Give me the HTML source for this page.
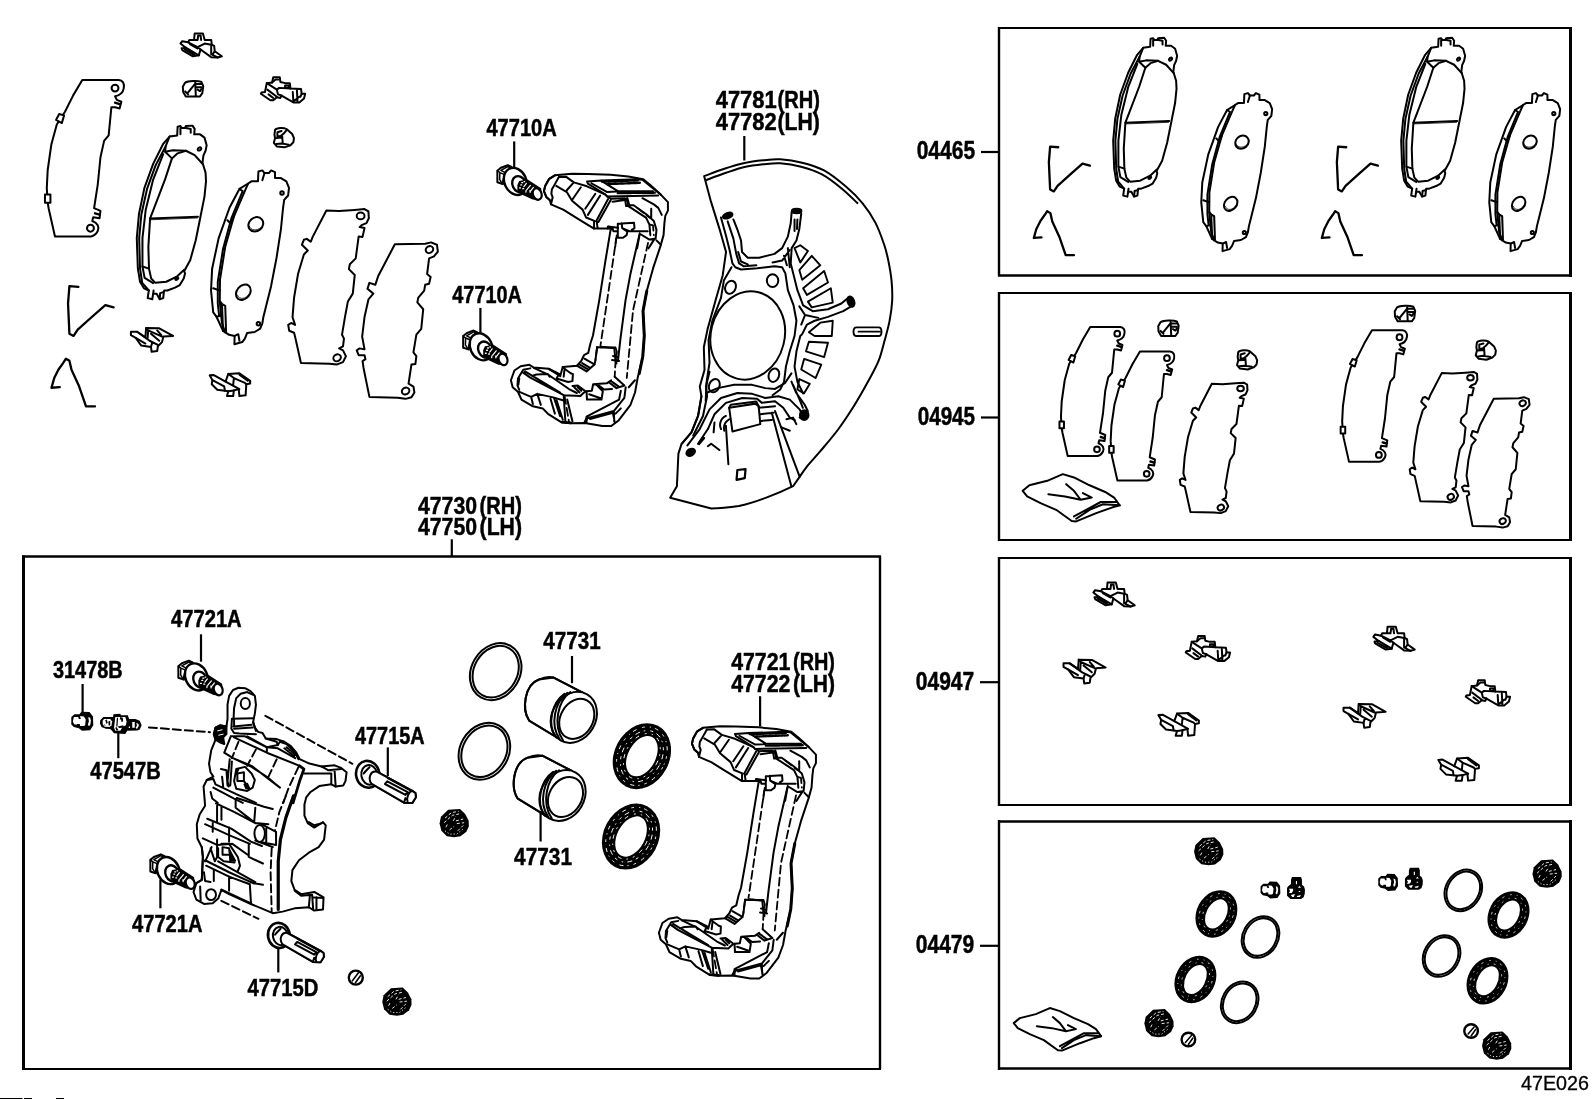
<!DOCTYPE html>
<html><head><meta charset="utf-8"><title>47E026</title>
<style>
html,body{margin:0;padding:0;background:#fff;}
body{width:1592px;height:1099px;overflow:hidden;font-family:"Liberation Sans",sans-serif;}
svg{display:block;filter:grayscale(1);}
.l{fill:none;stroke:#000;stroke-width:2;stroke-linejoin:round;stroke-linecap:round;vector-effect:non-scaling-stroke;}
path,circle,ellipse,line,polyline,polygon,rect{vector-effect:non-scaling-stroke;}
.w{fill:#fff;}
.k{fill:#000;}
.t{font-family:"Liberation Sans",sans-serif;font-weight:bold;font-size:24.5px;fill:#000;stroke:#000;stroke-width:0.5;}
.d{stroke-dasharray:8 4;}
</style></head><body>
<svg width="1592" height="1099" viewBox="0 0 1592 1099">
<rect x="0" y="0" width="1592" height="1099" fill="#fff"/>
<defs>
<!-- padA: traced in zoom frame of region [120,115,300,355], scale 4.579 -->
<g id="padA" class="l">
<path class="w" d="M262,50 L275,47 L281,56 L295,56 L300,47 L330,45 L340,60 L338,85 L365,85 L385,100 L395,135 L390,160 L380,182 L376,215 L390,260 L392,300 L385,370 L365,470 L345,570 L320,660 L292,712 L296,722 L290,745 L272,775 L250,787 L215,800 L200,800 L196,835 L180,840 L166,815 L150,815 L146,840 L125,835 L130,800 L108,790 L90,760 L80,700 L75,560 L85,450 L110,330 L150,220 L195,130 L225,95 L260,90 Z"/>
<path d="M225,95 L207,140 L162,225 L122,335 L96,452 L86,560 L90,700 L100,765 L130,800"/>
<path d="M207,140 L205,165 L240,158 L300,160 L340,180 L378,222"/>
<path d="M205,165 L236,195 L205,290 L152,428 L136,470 L128,600 L131,700 L141,745 L160,765 L210,760 L260,735 L292,705"/>
<path d="M236,195 L262,172 L300,160"/>
<path d="M196,176 L150,292 L116,430 L101,560 L101,690 L111,742 L150,766"/>
<path d="M136,470 L355,462"/>
<path d="M140,476 L352,468" stroke-width="0.8"/>
<path d="M101,690 L131,700"/>
<path d="M275,56 L275,85 M300,56 L322,60 L322,78 M150,815 L152,800 M180,838 L182,812 L196,808"/>
<ellipse cx="362" cy="152" rx="9" ry="6" transform="rotate(-35 362 152)"/>
<ellipse cx="258" cy="745" rx="8" ry="5" transform="rotate(-35 258 745)"/>
</g>
<!-- padB: same zoom frame -->
<g id="padB" class="l">
<path class="w" d="M632,255 L650,250 L660,262 L680,262 L690,250 L708,258 L708,285 L735,285 L760,300 L772,330 L768,365 L750,385 L745,420 L735,520 L715,650 L690,780 L665,880 L655,920 L650,950 L640,975 L615,990 L580,995 L570,1020 L558,1036 L522,1046 L523,1008 L498,1003 L470,985 L440,920 L425,900 L415,800 L420,700 L450,560 L500,420 L545,335 L585,310 L600,300 L630,300 Z"/>
<path d="M585,310 L575,332 L520,460 L480,600 L456,750 L455,850 L465,950 L480,992"/>
<path d="M545,335 L560,345 L508,470 L470,610 L446,760 L446,860 L452,915"/>
<path d="M440,920 L462,915 M425,790 L455,800 M490,478 L506,494 L520,460"/>
<path d="M465,860 L470,985 M456,850 L466,862 L480,870 L484,990" stroke-width="2"/>
<path d="M523,1008 L540,1000 L545,1030 M660,262 L650,295"/>
<ellipse cx="620" cy="497" rx="36" ry="31" transform="rotate(-40 620 497)"/>
<ellipse cx="563" cy="808" rx="39" ry="30" transform="rotate(-50 563 808)"/>
<path d="M590,505 C595,525 625,530 645,510 M535,820 C545,845 575,840 590,815" stroke-width="0.8"/>
<circle cx="740" cy="353" r="8"/>
<circle cx="632" cy="952" r="8"/>
</g>
<!-- shim1: zoom frame region [20,60,220,260] scale 5.495 -->
<g id="shim1" class="l">
<path class="w" d="M340,105 L540,105 C562,106 573,125 568,150 C564,175 545,190 520,195 L530,215 L555,225 L545,262 L520,255 L500,255 L485,410 L460,440 L440,530 L425,680 L405,810 L440,825 L435,865 L400,860 L395,880 C425,890 435,915 425,935 C415,955 400,963 388,965 L190,965 L155,810 L150,780 L145,700 L150,600 L170,460 L200,350 L245,280 L290,190 Z"/>
<path class="w" d="M213,292 L240,300 L228,342 L196,325 Z"/>
<path class="w" d="M135,735 L165,735 L165,780 L135,780 Z"/>
<circle cx="520" cy="150" r="19"/>
<circle cx="385" cy="920" r="19"/>
<path d="M520,230 L545,238 M410,838 L435,845" stroke-width="2.4"/>
</g>
<!-- shimC / shimD: zoom frame region [280,195,450,410] scale 5.1116 -->
<g id="shimC" class="l">
<path class="w" d="M235,75 L300,78 L380,72 L430,68 L450,80 L452,115 L440,140 L415,150 L405,160 L430,165 L420,210 L400,208 L385,320 L355,350 L350,375 L380,405 L370,500 L345,540 L330,620 L315,710 L325,730 L320,770 L300,780 L320,790 L335,820 L320,850 L290,862 L250,858 L105,855 L75,720 L70,700 L45,690 L40,660 L55,650 L75,660 L62,620 L70,520 L90,400 L120,300 L140,280 L110,250 L120,225 L135,220 L155,235 L165,210 Z"/>
<ellipse cx="410" cy="103" rx="20" ry="17"/>
<ellipse cx="290" cy="828" rx="20" ry="17" transform="rotate(-30 290 828)"/>
</g>
<g id="shimD" class="l">
<path class="w" d="M585,248 L740,245 L770,238 L800,250 L805,285 L785,310 L760,320 L750,400 L768,415 L760,450 L740,455 L735,485 L705,520 L700,545 L730,580 L720,680 L695,710 L680,800 L695,820 L690,860 L670,862 L655,960 L680,975 L685,1005 L670,1030 L640,1038 L600,1032 L455,1028 L425,880 L420,845 L435,835 L430,815 L400,815 L390,790 L405,780 L430,785 L418,720 L430,620 L450,530 L475,500 L445,475 L455,445 L485,455 L500,410 Z"/>
<ellipse cx="762" cy="275" rx="20" ry="17" transform="rotate(-30 762 275)"/>
<ellipse cx="640" cy="998" rx="20" ry="17" transform="rotate(-30 640 998)"/>
</g>
<!-- clips/caps: zoom frame region [170,25,310,155] scale 8.457 -->
<g id="clipA" class="l">
<path class="w" d="M205,65 L275,65 L290,120 L345,120 L350,160 L370,170 L375,215 L435,258 L400,268 L345,265 L255,200 L240,250 L190,258 L100,205 L95,190 L130,185 L85,150 L100,130 L150,140 L160,120 L200,120 Z"/>
<path d="M208,120 L230,120 L235,82 L255,82 L260,120 M150,140 L230,180 L290,150 L345,160 M230,180 L255,200 M130,185 L240,250 M165,155 L228,192 M345,160 L345,240 M375,215 L355,245 L400,268 M120,200 L200,245" />
</g>
<g id="clipB" class="l">
<path class="w" d="M870,435 L925,435 L930,475 L970,485 L1010,485 L1015,530 L1105,535 L1110,575 L1140,575 L1130,615 L1090,648 L1040,648 L940,590 L930,610 L900,605 L870,630 L845,630 L765,575 L770,565 L800,560 L815,485 L860,480 Z"/>
<path d="M860,480 L890,455 L915,455 M815,485 L900,540 L920,525 L1015,530 M900,540 L910,580 L940,590 M820,540 L900,600 M830,580 L870,610 M1035,560 L1040,640 M1070,545 L1075,640 M1100,600 L1110,575 M970,505 L1000,505 L1000,525 L970,525 Z M1040,640 L1090,600 L1100,600"/>
</g>
<g id="capA" class="l">
<path class="w" d="M125,480 C150,465 230,460 262,475 L278,510 L270,570 L250,598 L130,598 L108,560 L105,515 Z"/>
<path d="M210,480 L215,595 M215,492 L265,492 M145,570 L210,490 M215,520 L264,520 M230,540 L250,552 L262,535 M125,555 L150,580"/>
</g>
<g id="capB" class="l">
<path class="w" d="M885,880 C900,860 960,860 985,875 L1030,915 L1045,950 L1040,985 L1015,1010 L965,1028 L900,1020 L875,990 L885,950 L880,920 Z"/>
<path d="M905,900 L905,940 L935,930 L960,910 L985,880 M945,930 L950,992 M895,950 L945,945 M895,1000 L940,995 L1000,1005 M905,900 L940,890" stroke-width="2"/>
</g>
<!-- springs & clips C/D: zoom frame region [40,275,260,415] scale 7.236 -->
<g id="springV" class="l"><path d="M275,80 L210,75 L200,200 L210,420 L240,435 L270,390 L370,300 L470,212 L530,228" stroke-width="2.3"/></g>
<g id="springA" class="l"><path d="M140,805 L80,810 L100,740 L130,680 L165,630 L185,600 L210,615 L225,680 L280,800 L330,945 L395,945" stroke-width="2.3"/></g>
<g id="clipC" class="l">
<path class="w" d="M655,405 L700,405 L760,445 L765,378 L860,380 L960,435 L890,440 L880,480 L850,510 L845,545 L805,550 L800,515 L730,505 L690,450 L655,430 Z"/>
<path d="M765,378 L780,395 L775,460 M780,395 L880,440 M700,405 L790,470 L850,500 M800,420 L860,470 M845,395 L875,430 M810,480 L800,515 M690,450 L760,490"/>
</g>
<g id="clipD" class="l">
<path class="w" d="M1225,720 L1255,718 L1340,765 L1360,710 L1440,705 L1518,760 L1518,780 L1490,785 L1485,865 L1440,870 L1435,820 L1400,830 L1395,870 L1350,870 L1360,835 L1280,825 L1240,785 L1245,755 Z"/>
<path d="M1360,710 L1400,740 L1480,775 M1340,765 L1440,820 M1400,740 L1395,790 M1245,755 L1330,800 L1335,830 M1440,715 L1500,760 M1480,775 L1490,785 M1360,835 L1400,830"/>
</g>
<!-- bracket2: in absolute coords of lower bracket instance -->
<g id="bracket">
<g class="l" transform="translate(648,715) scale(0.25023)">
<path class="w" d="M218,48 L286,42 L350,43 L441,46 L511,53 L571,64 L599,87 L641,125 L669.5,155 L669.5,189 L659,210 L655.5,238 L652,287 L640,330 L610,420 L585,510 L570,590 L575,690 L569,772 L548,860 L538,916 L520,965 L471,1029 L443,1050 L408,1050 L337,1037.5 L281,1039 L246,1036 L190,1001 L169,979.5 L130,971 L84,944 L70,913 L49,895 L42,867 L56,828 L81,811 L116,805.5 L133,816 L193,821 L235,842 L239,851 L249,814 L306,809 L323,790 L334,767 L351,758 L360,719 L370,688 L395,548 L420,388 L440,268 L445,262 L427,261 L374,261 L307,220 L251,185 L202,164 L197,146 L184,136 L174,111 L179,90 L195,62 Z"/>
<path d="M555,288 L520,440 L500,548 L480,700 L470,788 M430,253 L470,258" stroke-width="2"/>
<path class="d" d="M465,288 L400,728 M590,318 L530,588 L505,858" stroke-width="1.8"/>
<path d="M400,733 L455,738 L460,788 L470,788 M450,770 L470,775" />
<path d="M585,510 L570,590 L575,690 L569,772 L555,840" stroke-width="3"/>
</g>
<g class="l" transform="translate(688,720) scale(0.08794)">
<path d="M165,80 L100,120 L55,200 L40,260 L70,330 L105,360 M210,100 L165,180 L130,240 L125,290 L140,330 L120,410" stroke-width="2"/>
<path d="M210,100 L290,95 L380,160 L530,205 L740,300 M180,200 L300,270 L360,370 L480,470 L520,560 L620,600 M380,160 L300,250 M460,215 L360,360 M625,290 L510,460 M680,310 L540,530 M770,350 L640,590 M800,360 L660,610 M610,610 L610,685 M640,600 L650,680"/>
<path d="M530,150 L690,140 L1100,125 L1160,130 L1370,300 M530,150 L540,175 L740,300 L760,320 L1340,310 M690,140 L880,260 L1280,260 M580,170 L760,270 L870,265" />
<path d="M700,152 L1110,137 M760,180 L1130,165 M880,282 L1300,277" stroke-width="2.4" stroke-dasharray="2 1.2"/>
<path d="M800,345 L960,340 L975,430 L1000,430 L1200,560 L1240,640 L1250,760 M820,380 L960,360 M1000,420 L1060,420 L1200,520 L1290,600 L1320,700 L1310,800 M1160,340 L1290,410 L1340,450 L1380,530 M1260,460 L1260,560 M760,320 L800,345"/>
<path d="M985,345 L1005,420" stroke-width="3"/>
<path class="d" d="M1250,640 L1280,650 L1290,760 M1100,450 L1240,560" stroke-width="1.8"/>
<path d="M880,630 L1065,620 L1070,680 L1040,700 M880,630 L880,790 L940,790 L980,760 L990,720 L930,680 L925,625 M1010,715 L1220,715 M930,680 L1010,715 M1130,740 L1100,910 M1140,750 L1240,810 L1300,800 L1230,910 M1320,820 L1370,870 M760,685 L775,665 L820,680 L830,715 L875,715"/>
<path class="d" d="M860,800 L850,910" stroke-width="1.8"/>
</g>
<g class="l" transform="translate(655,895) scale(0.08794)">
<path d="M180,300 L120,400 L115,480 L135,530 M180,300 L260,285 M135,400 L125,470" stroke-width="2"/>
<path d="M175,330 L260,390 L640,590 L660,900 M640,590 L830,600 L870,560 L900,545 M200,320 L600,560 M300,280 L470,360 L700,520 L790,565 M280,370 L330,355 L460,350 L480,380 M470,290 L580,360 L560,400 L690,440 L740,430 L745,350 M630,270 L650,290 L720,340 L745,350 M650,290 L640,380"/>
<path d="M790,255 L900,320 L990,240 L875,175 M820,240 L920,300 M850,225 L940,280 M740,485 L800,480 L880,540 M760,500 L820,560 M800,500 L840,540"/>
<path d="M900,545 L905,640 L1070,640 L1085,545 L1010,470 L975,465 L960,540 Z M930,580 L1060,625 M975,465 L1130,455 L1180,420 M1040,480 L1100,525 L1190,520 M1150,440 L1240,510 L1330,480 L1220,380 M1180,430 L1270,495 M1020,45 L1000,200 L990,240 M1190,190 L1270,200 M1230,150 L1240,230"/>
<path d="M1020,45 L1230,50" stroke-width="2.2" stroke-dasharray="2 1.2"/>
<path class="d" d="M1230,50 L1245,100 L1230,200 L1220,380 M1020,45 L1000,200" stroke-width="1.8"/>
<path d="M900,835 L1270,640 L1290,540 M920,850 L1210,770 L1330,620 L1345,500 M900,835 L900,905 M940,860 L1200,790 L1220,900 M1210,770 L1215,890 M1230,800 L1290,740 M1380,500 L1450,420"/>
<path d="M130,550 L270,610 L340,575 L520,615 L640,650 M340,575 L380,700 M270,610 L290,690 M490,630 L540,800 M530,620 L600,830 M560,650 L630,870 M680,640 L740,890"/>
<path class="d" d="M650,600 L700,890" stroke-width="1.8"/>
<path d="M620,895 L720,905 M880,900 L910,840" stroke-width="2.6"/>
</g>
</g>
<!-- boltA: frame origin (450,320) scale 19.99 (second 47710A bolt) -->
<g id="boltA" class="l">
<path class="w" d="M255,305 L325,248 L465,195 L540,230 L555,280 L440,365 L400,425 L370,500 L365,575 L300,552 L255,538 Z" stroke-width="2"/>
<path d="M325,300 L465,222 L530,262 L430,355 Z M305,345 L300,480 L355,570 M255,305 L305,345 L400,385" stroke-width="1.5"/>
<ellipse class="w" cx="615" cy="520" rx="218" ry="280" transform="rotate(-25 615 520)" stroke-width="2.4"/>
<ellipse class="w" cx="690" cy="575" rx="132" ry="166" transform="rotate(-25 690 575)" stroke-width="2.4"/>
<path class="k" d="M690,510 L860,480 L1130,655 L1140,780 L1040,890 L960,880 L720,770 L655,690 L655,590 Z" stroke="none"/>
<ellipse class="w" cx="1052" cy="772" rx="86" ry="118" transform="rotate(-20 1052 772)" stroke-width="2.2"/>
<g stroke="#fff" stroke-width="1.2" fill="none"><path d="M785,625 L835,560 M845,685 L915,600 M910,725 L975,640 M830,700 L825,735 M905,705 L910,740"/><path d="M700,650 L715,650 M725,590 L740,590 M745,545 L760,545 M765,665 L780,665 M790,525 L800,525" stroke-width="1.4"/></g>
</g>
<!-- pin: frame region [340,750,480,850] scale 10.993 -->
<g id="pin" class="l">
<path class="w" d="M400,230 L790,440 L825,465 L830,510 L790,575 L700,570 L340,360 Z"/>
<ellipse class="w" cx="300" cy="258" rx="128" ry="148" stroke-width="2.6" transform="rotate(-10 300 258)"/>
<ellipse cx="318" cy="265" rx="88" ry="108" transform="rotate(-10 318 265)"/>
<path class="w" d="M400,230 C330,215 300,300 340,360 L700,570 L790,575 L830,510 L825,465 L790,440 Z"/>
<path d="M270,230 L320,180 M255,250 L300,200" />
<path d="M490,365 L515,335 L740,455 L715,485 Z M520,300 L760,430 M790,440 C750,450 720,520 740,570 M700,570 L715,520"/>
</g>
<!-- boot (dark nut): same frame -->
<g id="boot">
<path class="k" d="M1185,648 L1315,640 L1372,695 L1410,770 L1412,830 L1385,890 L1320,940 L1250,950 L1170,938 L1110,880 L1090,800 L1105,725 Z"/>
<g fill="none" stroke="#fff" stroke-width="0.9" style="vector-effect:non-scaling-stroke">
<path d="M1150,740 L1220,680 L1300,665 M1140,790 L1230,710 L1320,690 M1270,770 L1350,750 M1280,800 L1360,790 M1240,770 L1270,720 M1160,840 L1180,800 M1200,870 L1250,830 M1290,880 L1350,820" stroke-dasharray="3 2"/>
<path d="M1150,880 L1200,915 L1280,915 L1350,860" stroke-dasharray="1.2 2"/>
</g>
</g>
<!-- oring / piston / seal: frame region [455,635,675,905] scale 4.0704 ; each centered at own origin -->
<g id="oring" class="l">
<ellipse cx="0" cy="0" rx="99" ry="121" transform="rotate(30)" stroke-width="2"/>
<ellipse cx="0" cy="0" rx="88" ry="110" transform="rotate(30)"/>
</g>
<g id="piston" class="l">
<path class="w" d="M-82,-162 L38,-100 L-67,83 L-182,13 C-212,-32 -202,-132 -142,-154 Z"/>
<path d="M38,-100 L-82,-162 C-100,-166 -125,-162 -142,-154 C-202,-132 -212,-32 -182,13 L-67,83"/>
<ellipse class="w" cx="0" cy="0" rx="89" ry="108" transform="rotate(30)" stroke-width="2"/>
<path d="M-38,-96 C-90,-60 -110,30 -72,82 M-26,-100 C-78,-62 -98,30 -58,88 M-14,-103 C-66,-64 -86,32 -44,93" stroke-width="2"/>
<ellipse cx="12" cy="6" rx="66" ry="86" transform="rotate(30 12 6)" stroke-width="2"/>
</g>
<g id="seal">
<g transform="rotate(28)">
<path class="k" fill-rule="evenodd" d="M-112,0 A112,140 0 1,0 112,0 A112,140 0 1,0 -112,0 Z M-56,0 A56,88 0 1,0 56,0 A56,88 0 1,0 -56,0 Z"/>
<g fill="none" stroke="#fff" stroke-width="1">
<ellipse cx="0" cy="0" rx="96" ry="125" stroke-dasharray="2.5 5 1.2 4 4 6"/>
<ellipse cx="0" cy="0" rx="80" ry="110" stroke-dasharray="5 4 1.5 5 3 4"/>
<ellipse cx="0" cy="0" rx="67" ry="98" stroke-dasharray="1.5 5 4 6 2 5"/>
</g>
</g>
</g>
<g id="sealS">
<g transform="rotate(28)">
<path class="k" fill-rule="evenodd" d="M-112,0 A112,140 0 1,0 112,0 A112,140 0 1,0 -112,0 Z M-56,0 A56,88 0 1,0 56,0 A56,88 0 1,0 -56,0 Z"/>
<g fill="none" stroke="#fff" stroke-width="0.8">
<ellipse cx="0" cy="0" rx="92" ry="121" stroke-dasharray="1.5 5 1 4 2.5 6"/>
<ellipse cx="0" cy="0" rx="72" ry="102" stroke-dasharray="2 6 1 5"/>
</g>
</g>
</g>
<!-- grease packet: frame region [1000,295,...] scale 4.486 -->
<g id="packet" class="l">
<path class="w" d="M100,875 L130,850 L210,830 L280,800 L330,815 L400,850 L470,880 L510,905 L535,940 L500,950 L430,975 L340,1012 L320,1010 L250,960 L180,930 L120,900 Z"/>
<path d="M535,940 L460,935 L400,960 L340,1000 M520,925 L450,925 L330,990" />
<path d="M215,890 L290,900 L360,915 L410,905 L370,885 M295,845 L330,875 L360,915" stroke-width="2"/>
</g>
<!-- capK (31478B) frame scale 15.92 -->
<g id="capK" stroke="none">
<path class="k" d="M230,385 L310,385 L340,345 L470,350 L525,420 L530,560 L480,640 L350,650 L300,610 L220,590 L180,550 L180,430 Z"/>
<path class="w" d="M220,430 L290,430 L300,460 L330,460 L320,415 L380,420 L410,470 L400,560 L380,575 L320,575 L315,540 L270,540 L265,555 L225,545 L205,500 Z"/>
<path class="w" d="M450,430 L480,440 L492,490 L480,560 L455,575 L445,545 L460,500 Z"/>
</g>
<!-- bleedV: frame origin (1255,870) scale 26.53 -->
<g id="bleedV" stroke="none">
<path class="k" d="M980,185 L1220,185 L1245,250 L1245,390 L1300,440 L1325,520 L1320,630 L1290,720 L1220,770 L940,770 L850,680 L850,480 L880,430 L955,370 L955,265 Z"/>
<path class="w" d="M900,500 L1010,500 L1010,560 L970,610 L900,610 L930,560 Z M1140,470 L1180,420 L1220,470 Z M1160,555 L1200,555 L1200,585 L1160,585 Z M1085,290 L1115,290 L1115,375 L1085,375 Z M950,665 L1060,640 L1030,715 L990,715 Z M1110,690 L1220,660 L1190,715 L1115,715 Z"/>
</g>
<g id="smallring" class="l"><circle cx="0" cy="0" r="6.8" stroke-width="2.4"/><path d="M-3,3 L3,-4 M0,5 L4.5,-1.5" stroke-width="1.5"/></g>

</defs>
<!-- 00_frames.svg -->
<g fill="none" stroke="#000">
<!-- main assembly box -->
<path d="M23.5 1069 V555.5" stroke-width="3"/>
<path d="M22 556.5 H881" stroke-width="2.5"/>
<path d="M880 556 V1069" stroke-width="2.4"/>
<path d="M22 1069 H881" stroke-width="2"/>
<!-- box 1 -->
<path d="M999 27 V276" stroke-width="2.4"/>
<path d="M998 28 H1572" stroke-width="2"/>
<path d="M1570.5 27 V277" stroke-width="3"/>
<path d="M998 275.5 H1572" stroke-width="2.5"/>
<!-- box 2 -->
<path d="M999 292 V541" stroke-width="2.4"/>
<path d="M998 293 H1572" stroke-width="2"/>
<path d="M1570.5 292 V541" stroke-width="3"/>
<path d="M998 540 H1572" stroke-width="2"/>
<!-- box 3 -->
<path d="M999 557 V806" stroke-width="2.4"/>
<path d="M998 558 H1572" stroke-width="2"/>
<path d="M1570.5 557 V806" stroke-width="3"/>
<path d="M998 805 H1572" stroke-width="2"/>
<!-- box 4 -->
<path d="M999 820 V1070" stroke-width="2.4"/>
<path d="M998 821.5 H1572" stroke-width="2.5"/>
<path d="M1570.5 820 V1070" stroke-width="3"/>
<path d="M998 1068.5 H1572" stroke-width="2.5"/>
</g>
<rect x="0" y="1098" width="22.5" height="1" fill="#000"/>
<rect x="24" y="1098" width="8" height="1" fill="#000"/>
<rect x="56" y="1098" width="8" height="1" fill="#000"/>

<!-- 01_labels.svg -->
<g class="t" opacity="0.999">
<text x="486.4" y="136" textLength="70.4" lengthAdjust="spacingAndGlyphs">47710A</text>
<text x="452.3" y="303" textLength="69.6" lengthAdjust="spacingAndGlyphs">47710A</text>
<text x="715.7" y="107.8" textLength="61" lengthAdjust="spacingAndGlyphs">47781</text>
<text x="777.5" y="107.8" textLength="42.4" lengthAdjust="spacingAndGlyphs">(RH)</text>
<text x="715.7" y="129.7" textLength="61" lengthAdjust="spacingAndGlyphs">47782</text>
<text x="777.5" y="129.7" textLength="42.4" lengthAdjust="spacingAndGlyphs">(LH)</text>
<text x="418" y="514.2" textLength="59" lengthAdjust="spacingAndGlyphs">47730</text>
<text x="479.6" y="514.2" textLength="42.4" lengthAdjust="spacingAndGlyphs">(RH)</text>
<text x="418" y="535.3" textLength="59" lengthAdjust="spacingAndGlyphs">47750</text>
<text x="479.6" y="535.3" textLength="42.4" lengthAdjust="spacingAndGlyphs">(LH)</text>
<text x="171" y="626.7" textLength="70.7" lengthAdjust="spacingAndGlyphs">47721A</text>
<text x="52.9" y="677.5" textLength="69.8" lengthAdjust="spacingAndGlyphs">31478B</text>
<text x="90.2" y="779.2" textLength="70.7" lengthAdjust="spacingAndGlyphs">47547B</text>
<text x="132" y="931.8" textLength="70.5" lengthAdjust="spacingAndGlyphs">47721A</text>
<text x="247.4" y="995.9" textLength="70.9" lengthAdjust="spacingAndGlyphs">47715D</text>
<text x="355" y="743.8" textLength="69.6" lengthAdjust="spacingAndGlyphs">47715A</text>
<text x="543.3" y="649.1" textLength="57.3" lengthAdjust="spacingAndGlyphs">47731</text>
<text x="514.1" y="865.3" textLength="57.9" lengthAdjust="spacingAndGlyphs">47731</text>
<text x="731.2" y="669.9" textLength="59.2" lengthAdjust="spacingAndGlyphs">47721</text>
<text x="793" y="669.9" textLength="42" lengthAdjust="spacingAndGlyphs">(RH)</text>
<text x="731.2" y="691.7" textLength="59.2" lengthAdjust="spacingAndGlyphs">47722</text>
<text x="793" y="691.7" textLength="42" lengthAdjust="spacingAndGlyphs">(LH)</text>
<text x="916.7" y="158.8" textLength="58.4" lengthAdjust="spacingAndGlyphs" style="font-size:26px">04465</text>
<text x="917.7" y="425.1" textLength="57.4" lengthAdjust="spacingAndGlyphs" style="font-size:26px">04945</text>
<text x="915.8" y="689.8" textLength="58.4" lengthAdjust="spacingAndGlyphs" style="font-size:26px">04947</text>
<text x="915.8" y="953" textLength="58.4" lengthAdjust="spacingAndGlyphs" style="font-size:26px">04479</text>
</g>
<text opacity="0.999" x="1521" y="1090" font-family="Liberation Sans, sans-serif" font-size="19.6" textLength="68" lengthAdjust="spacingAndGlyphs" fill="#000" stroke="#000" stroke-width="0.3">47E026</text>
<g fill="none" stroke="#000" stroke-width="2.2">
<path d="M514.2 141.4 V167.3"/>
<path d="M480.4 307.9 V332.5"/>
<path d="M744.3 136 V160.5"/>
<path d="M451.8 539.3 V556"/>
<path d="M201 634.3 V661.7"/>
<path d="M82.6 684 V712.3"/>
<path d="M118.3 731.4 V758.2"/>
<path d="M160.4 879.5 V908.3"/>
<path d="M278.3 946.8 V972.4"/>
<path d="M387.8 747.4 V776"/>
<path d="M572 656 V683.2"/>
<path d="M540.6 802 V841.5"/>
<path d="M760.1 696.2 V726.4"/>
<path d="M981 152 H998"/>
<path d="M981 417.5 H998"/>
<path d="M980 682.2 H998"/>
<path d="M980 945.8 H998"/>
</g>

<!-- 10_topleft.svg -->
<g transform="translate(0.4,0.8)">
<use href="#shim1" transform="translate(20,60) scale(0.18198)"/>
<use href="#padA" transform="translate(120,115) scale(0.21838)"/>
<use href="#padB" transform="translate(120,115) scale(0.21838)"/>
<use href="#shimC" transform="translate(280,195) scale(0.19563)"/>
<use href="#shimD" transform="translate(280,195) scale(0.19563)"/>
<g transform="translate(170,25) scale(0.11824)"><use href="#clipA"/><use href="#clipB"/><use href="#capA"/><use href="#capB"/></g>
<g transform="translate(40,275) scale(0.13819)"><use href="#springV"/><use href="#springA"/><use href="#clipC"/><use href="#clipD"/></g>

</g>
<!-- 11_bracket.svg -->
<g transform="translate(0.4,0.8)">
<use href="#bracket" transform="translate(-148,-552.5)"/>
<use href="#boltA" transform="translate(34.2,-165.4) translate(450,320) scale(0.050025)"/>

</g>
<!-- 12_shield.svg -->
<g transform="translate(0.4,0.8)">
<!-- dust shield -->
<g class="l" transform="translate(660,140) scale(0.33667)">
<path class="w" d="M130.0,105.0 C140.0,101.3 170.0,89.5 190.0,83.0 C210.0,76.5 230.8,70.2 250.0,66.0 C269.2,61.8 287.3,59.8 305.0,58.0 C322.7,56.2 336.7,53.8 356.0,55.0 C375.3,56.2 399.3,59.5 421.0,65.0 C442.7,70.5 464.3,76.2 486.0,88.0 C507.7,99.8 532.0,119.8 551.0,136.0 C570.0,152.2 585.4,167.2 600.0,185.0 C614.6,202.8 627.8,222.5 638.5,243.0 C649.2,263.5 658.1,289.2 664.5,308.0 C670.9,326.8 673.3,338.0 677.0,356.0 C680.7,374.0 684.7,396.2 686.6,416.0 C688.5,435.8 689.4,455.2 688.4,475.0 C687.4,494.8 684.5,515.2 680.7,535.0 C676.9,554.8 671.2,574.2 665.8,594.0 C660.3,613.8 656.0,634.2 648.0,654.0 C640.0,673.8 629.9,691.2 618.0,713.0 C606.1,734.8 591.4,761.2 576.6,785.0 C561.8,808.8 545.9,833.2 529.0,856.0 C512.1,878.8 490.8,903.2 475.0,922.0 C459.2,940.8 444.3,956.2 434.0,969.0 C423.7,981.8 416.5,994.0 413.0,999.0 L394,1026 C350,1048 280,1075 233,1085 C200,1090 170,1092 151,1092 L29,1060 L49,1026 L53.5,929 L63,900 L92,866 L112,817 L122,759 L117,730 L131,681 L129,613 L140,560 L165,470 L185,400 L195,330 L175,260 L150,180 Z"/>
<path d="M135.0,117.0 C145.0,113.3 175.8,101.5 195.0,95.0 C214.2,88.5 231.7,82.2 250.0,78.0 C268.3,73.8 287.3,71.8 305.0,70.0 C322.7,68.2 337.2,65.8 356.0,67.0 C374.8,68.2 397.3,71.5 418.0,77.0 C438.7,82.5 459.7,89.0 480.0,100.0 C500.3,111.0 522.5,128.8 540.0,143.0 C557.5,157.2 577.5,178.0 585.0,185.0"/>
</g>
<g class="l" transform="translate(690,190) scale(0.19108)">
<ellipse cx="300" cy="757" rx="193" ry="233" transform="rotate(14 300 757)"/>
<!-- prong 1 + plate left edge -->
<path d="M160,140 L185,230 L205,310 L220,380 L235,400 L265,412 L350,405 L440,395 L480,400 L497,432 L510,520 L540,600 L555,680 L545,760 L520,840 L500,920 L490,1000 L470,1040 L430,1070"/>
<path d="M225,150 L245,200 L265,260 L270,320 L300,350 L360,350 L440,330 L480,300 L510,240 L525,170 L530,110"/>
<path d="M195,160 L225,250 L240,330 L255,380 L280,395 L345,390 M250,320 L265,370 L300,385" />
<path d="M580,120 L570,200 L555,260 L530,300 L525,380 L540,440 L560,520 L590,600 L640,630 L720,620 L790,590 L820,565"/>
<path d="M545,150 L545,210 M560,150 L558,200" />
<path d="M850,600 L800,630 L720,660 L650,680 L610,700 L585,750 L575,760 L555,840 L545,920 L560,1000 L590,1060"/>
<path d="M570,605 L600,650 L670,665 M600,650 L580,700"/>
<path d="M430,375 L480,365 L520,310 M510,300 L520,400 M490,340 L505,390" />
<path d="M215,400 L175,470 L160,560 L115,680 L95,780 L100,900 L85,1000 L80,1099"/>
<ellipse class="k" cx="195" cy="130" rx="26" ry="13" transform="rotate(-20 195 130)"/>
<ellipse class="k" cx="556" cy="106" rx="25" ry="12"/>
<ellipse class="k" cx="840" cy="580" rx="17" ry="28" transform="rotate(-20 840 580)"/>
<ellipse cx="210" cy="505" rx="27" ry="35" transform="rotate(25 210 505)"/>
<ellipse cx="430" cy="470" rx="30" ry="33"/>
<ellipse cx="437" cy="965" rx="27" ry="36" transform="rotate(20 437 965)"/>
<ellipse cx="125" cy="1020" rx="27" ry="36" transform="rotate(25 125 1020)"/>
<g stroke-width="1.9">
<path d="M545,300 L575,285 L615,315 L575,375 Z"/>
<path d="M570,415 L635,340 L680,390 L585,465 Z"/>
<path d="M590,510 L700,420 L720,480 L610,545 Z"/>
<path d="M615,580 L735,510 L745,585 L635,610 Z"/>
<path d="M620,740 L680,690 L745,680 L740,760 L650,760 Z"/>
<path d="M620,790 L720,795 L700,870 L605,840 Z"/>
<path d="M595,880 L685,910 L655,980 L580,935 Z"/>
<path d="M570,985 L625,1010 L595,1060 L560,1040 Z"/>
</g>
<path d="M870,715 L985,715 C1005,715 1005,760 985,760 L870,760 C848,760 848,715 870,715 Z M880,737 L990,737" stroke-width="1.9"/>
</g>
<g class="l" transform="translate(660,330) scale(0.16378)">
<path d="M280,380 L350,350 L450,330 L560,330 L640,350 L700,355 L760,320 L800,260"/>
<path d="M165,700 L240,600 L300,480 L370,410 L470,380 L560,385 L640,410 L720,400 L790,420 L850,480 L870,520"/>
<path d="M230,690 L290,600 L330,510 L400,440 L500,410 L590,415 L620,440 L700,430 L750,470 L790,530 L820,545"/>
<path d="M130,690 L190,620 L230,520 L250,400"/>
<path d="M200,640 L260,520 L285,400 L278,340 L300,250"/>
<path d="M800,310 L830,380 L880,450 L900,490 L880,540 L850,530 M810,330 L850,420 L870,470"/>
<ellipse class="k" cx="878" cy="515" rx="26" ry="30"/>
<ellipse class="k" cx="185" cy="742" rx="28" ry="20" transform="rotate(-30 185 742)"/>
<path d="M235,690 L265,655" stroke-width="2.6"/>
<path class="w" d="M420,470 L430,452 L585,432 L600,460 L610,570 L440,615 Z"/>
<path d="M420,470 L580,445 L600,460" stroke-width="2.2"/>
<path d="M600,470 L700,460 M610,510 L690,500 M615,550 L680,545 M680,500 L800,950 M700,490 L850,890 M400,580 L415,815"/>
<path d="M400,520 C360,540 360,580 370,600 M420,540 C390,560 385,590 390,610 M290,705 L310,690 L360,728 M740,590 L790,610 M770,540 L810,530 L830,570 M330,560 L325,620"/>
<path d="M470,850 L520,845 L515,900 L465,910 Z" stroke-width="2.2"/>
</g>

</g>
<!-- 20_caliper.svg -->
<g transform="translate(0.4,0.8)">
<!-- caliper body silhouette, frame region [180,680,350,920] scale 4.579 -->
<g class="l" transform="translate(180,680) scale(0.21838)">
<path class="w" d="M215.8,174 L215.8,109 L223,69 L241,42 L266,32 L296,34 L321,47 L341,69 L346,109 L341,149 L333,189 L341,214 L356,234 L376,239 L391,264 L441,267 L476,279 L506,299 L531,329 L546,359 L591,379 L646,392 L706,387 L736,399 L761,419 L756,459 L746,479 L711,484 L691,474 L636,482 L596,509 L576,534 L568,566 L568,617 L583,652 L613,672 L653,647 L665.5,662 L658,727 L633,762 L588,787 L543,822 L513,867 L508,917 L523,957 L553,977 L613,967 L655.5,992 L653,1047 L613,1052 L588,1037 L523,1042 L468,1057 L423,1064 L323,1022 L223,977 L188,957 L173,997 L148,1019 L108,1022 L73,1002 L60,967 L73,927 L98,912 L103,807 L98,762 L78,722 L75,657 L88,612 L113,572 L111,545 L106,484 L121,454 L151,439 L138,419 L131,379 L141,319 L161,269 L153,244 L161,214 L181,204 L211,209 Z"/>
</g>
<!-- upper detail: frame [190,682] scale 9.156 -->
<g class="l" transform="translate(190,682) scale(0.10922)">
<path d="M395,330 L400,230 L420,140 L460,100 L520,85 L575,110"/>
<ellipse cx="503" cy="190" rx="42" ry="50"/>
<path d="M380,330 L575,325 M380,330 L375,420 L400,460 L450,465 L600,470 M400,340 L400,400 M395,400 L560,385 M400,420 L570,410 M575,360 L600,440" />
<path class="k" d="M230,410 L270,390 L330,400 L330,470 L300,500 L310,560 L270,545 L230,520 L215,470 Z"/>
<path d="M250,440 L290,430 M260,480 L300,470" stroke="#fff" stroke-width="1"/>
<path d="M370,490 L500,490 L700,590 L800,570 M370,490 L310,640 L390,690 L560,770 L700,860 L820,960 M400,500 L700,640 L1000,760 M520,490 L700,590 L700,640 M390,690 L560,760 L820,960" />
<path class="d" d="M440,540 L380,690 M600,610 L520,760 M790,700 L710,870 M990,770 L900,960 L850,1099" stroke-width="1.9"/>
<path d="M700,590 L800,600 L960,690 M800,570 L820,540 L880,560 L960,640 L990,700 M690,510 L790,540 L800,570" />
<path d="M860,600 L960,680 M880,590 L975,670" stroke-dasharray="2 1.5" stroke-width="2"/>
<path d="M1000,760 L1040,790 L1000,900 L940,1099" stroke-width="2.8"/>
<path d="M1040,830 L1290,830 M1200,765 L1260,800 L1320,800 M1290,830 L1290,930 M1320,800 L1330,950 M1260,800 L1380,790"/>
<path d="M280,790 L330,800 L340,940 M290,860 L300,950 M360,700 L340,900 L350,950 M380,720 L365,940" stroke-width="2"/>
<path d="M420,790 L500,770 L560,830 L590,890 L570,960 L520,990 L420,970 L400,900 Z M430,830 L490,820 L490,900 L430,900 Z M490,900 L540,970 M440,790 L420,830"/>
<path class="k" d="M495,930 L520,925 L540,970 L510,965 Z"/>
<path d="M230,930 L420,1020 L600,1099 M210,960 L400,1060 L480,1099 M185,1000 L200,1060 L250,1099 M150,890 L210,880 L230,930" />
</g>
<!-- lower detail: frame [185,795] scale 9.156 -->
<g class="l" transform="translate(185,795) scale(0.10922)">
<path d="M1130,240 L1180,270 L1250,250 M1000,870 L1060,915 L1160,905 L1170,1040 M1140,910 L1130,1020 M1200,930 L1200,1045 M1170,930 L1260,935"/>
<path d="M990,0 L920,200 L870,400 L850,600 L850,1040" stroke-width="3.2"/>
<path class="d" d="M920,0 L860,150 L820,320 M790,480 L780,700 L790,1060" stroke-width="1.9"/>
<ellipse cx="235" cy="905" rx="45" ry="50"/>
<path d="M150,770 L160,560 L150,470 M100,800 L150,770 M135,830 L140,960" />
<path d="M280,70 L450,150 L640,250 L760,260 M200,210 L420,300 L600,420 L700,460 M180,260 L400,360 L590,440 M330,100 L330,220 M290,90 L290,240 M460,30 L460,110 L640,250 M470,20 L720,100 L800,120 M640,110 L630,240 M250,250 L250,330"/>
<ellipse cx="680" cy="345" rx="48" ry="78"/>
<path d="M700,262 L830,330 L830,450 L700,425 M740,300 L740,440 M640,410 L800,470" />
<path d="M400,290 L400,420 M580,440 L580,560 L710,620 M160,390 L290,450 L430,440 L570,540"/>
<path d="M330,440 L400,440 L480,560 L500,640 L480,690 M300,480 L300,560 L350,600 L450,610 M340,470 L400,480 L410,540 L340,540 Z M240,470 L200,560 L180,600 M230,480 L270,600 L290,560 L290,400" stroke-width="2"/>
<path class="k" d="M405,500 L455,595 L410,590 Z"/>
<path d="M180,590 L400,700 L620,800 L710,815 M190,640 L400,740 L590,810 M300,600 L640,790 M260,680 L260,780 M400,740 L400,870 M590,810 L600,980 M170,700 L180,780 L230,790"/>
<path d="M330,860 L600,985" stroke-width="2.2"/>
</g>
<!-- dashed assembly lines -->
<g class="l d">
<path d="M148.5,726.6 L209.6,731.4"/>
<path d="M265,715 L352,763"/>
<path d="M221,900 L258,918"/>
</g>

</g>
<!-- 21_smallparts.svg -->
<g transform="translate(0.4,0.8)">
<!-- bolts 47710A #2, 47721A x2 (reuse boltA) -->
<use href="#boltA" transform="translate(450,320) scale(0.050025)"/>
<use href="#boltA" transform="translate(-284.8,330.1) translate(450,320) scale(0.050025)"/>
<use href="#boltA" transform="translate(-312.8,523.8) translate(450,320) scale(0.050025)"/>
<!-- 31478B cap & 47547B bleeder, frame [60,690] scale 15.92 -->
<g transform="translate(59.6,689.2) scale(0.062814)" stroke="none">
<path class="k" d="M230,385 L310,385 L340,345 L470,350 L525,420 L530,560 L480,640 L350,650 L300,610 L220,590 L180,550 L180,430 Z"/>
<path class="w" d="M220,430 L290,430 L300,460 L330,460 L320,415 L380,420 L410,470 L400,560 L380,575 L320,575 L315,540 L270,540 L265,555 L225,545 L205,500 Z"/>
<path class="w" d="M450,430 L480,440 L492,490 L480,560 L455,575 L445,545 L460,500 Z"/>
<path class="k" d="M690,430 L845,430 L850,385 L960,380 L970,400 L1080,400 L1100,460 L1200,460 L1270,490 L1300,560 L1270,630 L1230,645 L1070,650 L1040,700 L860,690 L820,640 L800,620 L730,615 L660,590 L635,530 L640,480 Z"/>
<path class="w" d="M700,460 L800,460 L830,500 L820,560 L790,590 L710,585 L680,540 L680,490 Z"/>
<path class="k" d="M720,480 L745,470 L760,520 L740,540 Z M770,500 L800,490 L800,560 L775,570 Z M700,540 L725,560 L715,575 Z"/>
<path class="w" d="M880,430 L1040,430 L1060,500 L1050,560 L1000,580 L960,650 L880,650 L860,600 L870,520 Z"/>
<path class="k" d="M905,440 L925,440 L915,580 L895,580 Z M960,430 L1000,440 L1005,500 L975,505 L975,470 L950,470 Z M920,580 L1010,560 L1000,600 L940,605 Z M880,600 L900,590 L930,640 L900,650 Z"/>
<path class="w" d="M1150,510 L1190,510 L1190,600 L1150,600 Z M1215,520 L1250,540 L1255,570 L1225,620 L1205,600 L1225,565 Z M1095,580 L1115,580 L1115,605 L1095,605 Z"/>
</g>
<g transform="translate(340,750) scale(0.090967)"><use href="#pin"/><use href="#boot"/></g>
<g transform="translate(252.97,912.64) scale(0.08505)"><use href="#pin"/></g>
<g transform="translate(-57.3,178.5) translate(340,750) scale(0.090967)"><use href="#boot"/></g>
<g class="l"><circle cx="355.4" cy="976.8" r="7" stroke-width="2.4"/><path d="M352,980 L358,972 M355,982 L360,975" stroke-width="1.6"/></g>

</g>
<!-- 22_pistons.svg -->
<g transform="translate(0.4,0.8)">
<g transform="translate(455,635) scale(0.24568)">
<use href="#oring" transform="translate(164,146)"/>
<use href="#oring" transform="translate(118,470)"/>
<use href="#piston" transform="translate(482,332)"/>
<use href="#piston" transform="translate(436,650)"/>
<use href="#seal" transform="translate(759,490)"/>
<use href="#seal" transform="translate(715,817)"/>
</g>
<use href="#bracket"/>

</g>
<!-- 30_box1.svg -->
<g transform="translate(0.4,0.8)">
<g id="box1set">
<use href="#padA" transform="translate(1097.8,28) scale(0.19982)"/>
<use href="#padB" transform="translate(1118.5,42.7) scale(0.1985)"/>
<use href="#springV" transform="translate(1023.6,136.5) scale(0.1244)"/>
<use href="#springA" transform="translate(1023.2,133.9) scale(0.1275)"/>
</g>
<use href="#box1set" transform="translate(288,0)"/>

</g>
<!-- 31_box2.svg -->
<g transform="translate(0.4,0.8)">
<use href="#shim1" transform="translate(1038.8,310.4) scale(0.1501)"/>
<use href="#shim1" transform="translate(1088.5,334.9) scale(0.1501)"/>
<use href="#shimC" transform="translate(1172.8,370.7) scale(0.1643)"/>
<use href="#capA" transform="translate(1145.4,264.5) scale(0.11824)"/>
<use href="#capB" transform="translate(1133.2,247.2) scale(0.11824)"/>
<use href="#packet" transform="translate(1000,295) scale(0.22292)"/>
<use href="#shim1" transform="translate(1319.6,313.5) scale(0.1529)"/>
<use href="#shimC" transform="translate(1402.7,360) scale(0.1643)"/>
<use href="#shimD" transform="translate(1398,357.6) scale(0.163)"/>
<use href="#capA" transform="translate(1381.9,249.8) scale(0.11824)"/>
<use href="#capB" transform="translate(1371.9,237.4) scale(0.11824)"/>

</g>
<!-- 32_box3.svg -->
<g transform="translate(0.4,0.8)">
<use href="#clipA" transform="translate(1082.9,574) scale(0.11824)"/>
<use href="#clipB" transform="translate(1094.9,583.7) scale(0.11824)"/>
<use href="#clipC" transform="translate(972.6,606.6) scale(0.13819)"/>
<use href="#clipD" transform="translate(988.7,614.7) scale(0.13819)"/>
<use href="#clipA" transform="translate(1362.9,618.3) scale(0.11824)"/>
<use href="#clipB" transform="translate(1374.9,628) scale(0.11824)"/>
<use href="#clipC" transform="translate(1252.6,650.9) scale(0.13819)"/>
<use href="#clipD" transform="translate(1268.7,659.6) scale(0.13819)"/>

</g>
<!-- 33_box4.svg -->
<g transform="translate(0.4,0.8)">
<use href="#packet" transform="translate(993.3,846.8) scale(0.2006)"/>
<use href="#boot" transform="translate(1094.5,778.14) scale(0.090967)"/>
<use href="#boot" transform="translate(1044.8,950.04) scale(0.090967)"/>
<use href="#sealS" transform="translate(1216,913.1) scale(0.1769)"/>
<use href="#sealS" transform="translate(1195,978.7) scale(0.1769)"/>
<use href="#oring" transform="translate(1260.1,936.2) scale(0.1793)"/>
<use href="#oring" transform="translate(1239.3,1001.5) scale(0.1793)"/>
<use href="#capK" transform="translate(1250,861.1) scale(0.0565)"/>
<use href="#bleedV" transform="translate(1254.6,869.2) scale(0.037693)"/>
<use href="#smallring" transform="translate(1188,1038.7)"/>
<use href="#capK" transform="translate(1367.7,853.5) scale(0.0565)"/>
<use href="#bleedV" transform="translate(117.9,-9.2) translate(1254.6,869.2) scale(0.037693)"/>
<use href="#oring" transform="translate(1462.9,889.6) scale(0.1793)"/>
<use href="#oring" transform="translate(1441.2,955.2) scale(0.1793)"/>
<use href="#sealS" transform="translate(1508.1,914.2) scale(0.1769)"/>
<use href="#sealS" transform="translate(1487.1,980) scale(0.1769)"/>
<use href="#boot" transform="translate(1432.9,800.54) scale(0.090967)"/>
<use href="#boot" transform="translate(1382.5,972.44) scale(0.090967)"/>
<use href="#smallring" transform="translate(1470.7,1030.2)"/>

</g>

</svg>
</body></html>
